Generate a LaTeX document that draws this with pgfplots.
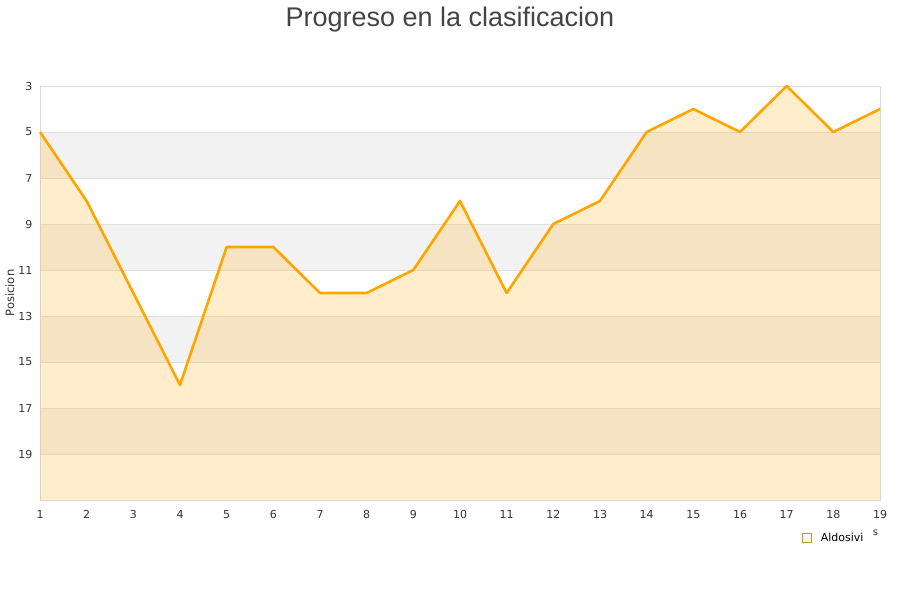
\documentclass[border=0pt]{standalone}
\usepackage{pgfplots}
\pgfplotsset{compat=1.18}
\usepackage{fontspec}
\setmainfont{DejaVu Sans}
\newfontfamily\titlefont{Liberation Sans}

\definecolor{bandgray}{HTML}{F2F2F2}
\definecolor{gridgray}{HTML}{E0E0E0}
\definecolor{framegray}{HTML}{D9D9D9}
\definecolor{areafill}{HTML}{FFB733}
\definecolor{lineorange}{HTML}{FFA500}
\definecolor{ticktext}{HTML}{333333}
\definecolor{titletext}{HTML}{444444}

\begin{document}
\begin{tikzpicture}[x=1pt,y=1pt]
\begin{axis}[
    set layers,
    clip=false,
    at={(40pt,100pt)}, anchor=south west,
    scale only axis,
    width=840pt, height=414pt,
    xmin=1, xmax=19,
    ymin=3, ymax=21,
    y dir=reverse,
    xtick={1,...,19},
    ytick={3,5,...,19},
    major tick length=0pt,
    ymajorgrids,
    grid style={gridgray, line width=0.8pt},
    axis line style={framegray, line width=0.8pt},
    tick label style={font=\fontsize{11}{13}\selectfont, text=ticktext},
    /pgf/number format/assume math mode=true,
    xticklabel style={yshift=-7pt},
    yticklabel style={xshift=-4pt},
    ylabel={Posicion},
    ylabel style={at={(axis description cs:-0.036,0.5)}, anchor=center,
        font=\fontsize{11.5}{13}\selectfont, text=ticktext},
    title={\titlefont Progreso en la clasificacion},
    title style={at={(axis description cs:0.488,1.147)}, anchor=center,
        font=\fontsize{27}{31}\selectfont, text=titletext},
    legend style={at={(axis description cs:0.9435,-0.092)}, anchor=center,
        draw=none, fill=none, font=\fontsize{11}{13}\selectfont,
        inner sep=0pt, nodes={inner sep=0pt}},
    legend image code/.code={
        \draw[draw=lineorange!55!gray, fill=areafill!30, line width=0.6pt]
            (0pt,-4.5pt) rectangle (9pt,4.5pt);
        \path (0pt,0pt) rectangle (19pt,0pt);
    },
]
% alternating background bands
\addplot[on layer=axis background, draw=none, fill=bandgray, forget plot]
    coordinates {(1,5) (19,5) (19,7) (1,7)} -- cycle;
\addplot[on layer=axis background, draw=none, fill=bandgray, forget plot]
    coordinates {(1,9) (19,9) (19,11) (1,11)} -- cycle;
\addplot[on layer=axis background, draw=none, fill=bandgray, forget plot]
    coordinates {(1,13) (19,13) (19,15) (1,15)} -- cycle;
\addplot[on layer=axis background, draw=none, fill=bandgray, forget plot]
    coordinates {(1,17) (19,17) (19,19) (1,19)} -- cycle;

% area under the position line
\addplot[draw=none, fill=areafill, fill opacity=0.25]
    coordinates {(1,5) (2,8) (3,12) (4,16) (5,10) (6,10) (7,12) (8,12)
        (9,11) (10,8) (11,12) (12,9) (13,8) (14,5) (15,4) (16,5) (17,3)
        (18,5) (19,4) (19,21) (1,21)} -- cycle;
\addlegendentry{Aldosivi}

\addplot[lineorange, line width=2.6pt, line join=round, forget plot]
    coordinates {(1,5) (2,8) (3,12) (4,16) (5,10) (6,10) (7,12) (8,12)
        (9,11) (10,8) (11,12) (12,9) (13,8) (14,5) (15,4) (16,5) (17,3)
        (18,5) (19,4)};

\node[font=\fontsize{10}{11}\selectfont, text=ticktext]
    at (axis description cs:0.9946,-0.078) {s};
\end{axis}
\pgfresetboundingbox
\useasboundingbox (0,0) rectangle (900,600);
\end{tikzpicture}
\end{document}
